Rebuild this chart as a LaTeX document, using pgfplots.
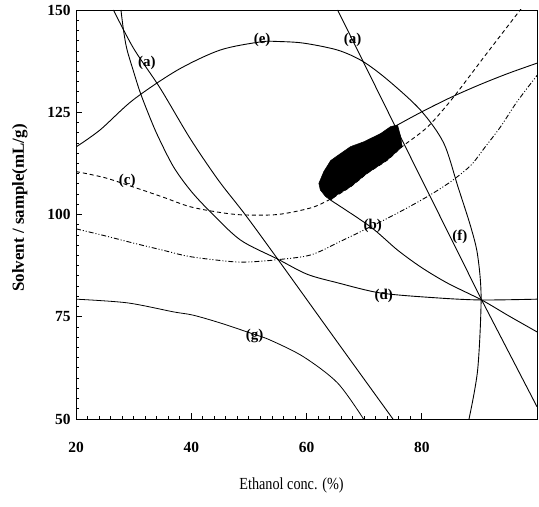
\documentclass[border=0pt]{standalone}
\usepackage{fontspec}
\setmainfont{Liberation Serif}
\usepackage{graphicx}
\usepackage{pgfplots}
\pgfplotsset{compat=1.18}
\begin{document}
\begin{tikzpicture}
\begin{axis}[
  scale only axis, width=461bp, height=409bp,
  xmin=20, xmax=100, ymin=50, ymax=150,
  xtick={20,40,60,80}, ytick={50,75,100,125,150},
  minor x tick num=9, minor y tick num=9,
  tick align=inside,
  xtick pos=bottom, ytick pos=left,
  major tick length=6bp, minor tick length=3bp,
  every tick/.style={black, line width=0.8pt},
  cycle list={{black, no markers}},
  /pgf/number format/assume math mode=true,
  ticklabel style={font=\fontsize{15.5}{16}\selectfont\bfseries},
  xticklabel style={anchor=north, yshift=-20bp},
  yticklabel style={xshift=-2bp},
  xlabel={\scalebox{0.84}[1]{Ethanol conc. (\%)}},
  ylabel={Solvent / sample(mL/g)},
  every axis x label/.style={at={(axis description cs:0.4675,-0.1614)}, anchor=center, font=\fontsize{17}{17}\selectfont},
  every axis y label/.style={at={(axis description cs:-0.1215,0.516)}, rotate=90, anchor=center, font=\fontsize{17}{17}\selectfont\bfseries},
  every axis plot/.append style={line width=0.9pt, black},
  clip=true,
]
% (e) arc
\addplot[smooth] coordinates {(20,116.5) (24.2,120.7) (29.9,128) (37.6,135.3) (45,140.2) (52,142.2) (55,142.3) (59.5,141.9) (65.4,140.2) (69.7,137.5) (74.1,132.9) (79.8,125.5) (83.8,117.5) (86.3,106.7) (88.5,97) (89.7,90) (90.3,79.5) (89.7,62) (88.2,50)};
% steep line (a) top
\addplot[sharp plot] coordinates {(65.4,150) (75.1,122.4) (90.4,79.1) (100,53)};
% left line (a)
\addplot[smooth] coordinates {(26.5,150) (30,140.6) (34.6,130.9) (39.8,118.6) (44.7,108.4) (49.4,99.9) (55,89.1) (65,69.5) (75,50)};
% (d) convex curve
\addplot[smooth] coordinates {(27.8,150) (28.2,145.5) (28.8,140.6) (30,134.9) (31.1,130) (32.6,124.5) (34.2,119.2) (36.9,111.7) (39.8,106) (43,101.1) (48.5,93.8) (55,89.1) (60.1,85.4) (65.4,83.3) (72.9,80.8) (82.8,79.6) (90.4,79.1) (100,79.3)};
% (c) dashed
\addplot[smooth, dash pattern=on 4bp off 3bp] coordinates {(20,110.5) (25,109) (30,106.7) (35,104.3) (39.8,101.9) (45,100.5) (49,99.9) (55,100) (60.7,101.6) (63.8,103.5) (67.65,106.8) (70.55,110.1) (74,113.3) (76.6,116.6) (81,121.4) (85.4,128.5) (90.8,138.5) (96.7,149.3) (97.1,150)};
% dash-dot curve
\addplot[smooth, dash pattern=on 5bp off 2bp on 1bp off 2bp on 1bp off 2bp] coordinates {(20,96.5) (25,94.8) (30,93) (35,91.3) (39.8,89.7) (46.8,88.5) (50,88.4) (54.6,88.9) (60.7,90.1) (66,93.5) (71.1,97) (76,100.5) (81,104.4) (85,108) (88.5,112) (91,116.5) (93.7,121.5) (96.5,127.5) (100,134)};
% (b) curve
\addplot[smooth] coordinates {(64.2,103.5) (71.1,97) (75.8,91.3) (80,87) (84.5,83.2) (90.4,79.1) (95,75.3) (100,71.3)};
% top solid line from shaded region
\addplot[smooth] coordinates {(75.8,121.9) (80,125.1) (85,128.6) (90,131.7) (95,134.5) (100,137)};
% (g)
\addplot[smooth, line width=0.8pt] coordinates {(20,79.3) (28.9,78.4) (36.9,76.2) (40.3,75.4) (45,73.5) (50.3,71) (53.7,69.3) (59.5,65.2) (65.4,58.8) (69.9,50)};
% shaded region
\addplot[fill=black, draw=black, line width=0.5pt] coordinates {(62.14,107.6) (63.0,110.5) (64.2,113.2) (65.6,114.6) (67.65,116.6) (69.97,117.8) (72.87,119.8) (74.6,121.5) (75.8,121.9) (76.35,119) (76.6,116.6) (74.0,113.3) (70.55,110.1) (67.65,106.8) (65.3,104.8) (64.2,103.5) (63.3,104.4) (62.4,106)} -- cycle;
% labels
\begin{scope}[every node/.style={font=\fontsize{15}{15}\selectfont\bfseries, inner sep=0pt}]
\node at (axis cs:32.3,137) {(a)};
\node at (axis cs:52.3,142.7) {(e)};
\node at (axis cs:68,142.7) {(a)};
\node at (axis cs:28.9,108.2) {(c)};
\node at (axis cs:71.5,97.2) {(b)};
\node at (axis cs:73.4,80) {(d)};
\node at (axis cs:86.6,94.5) {(f)};
\node at (axis cs:51,70.3) {(g)};
\end{scope}
\end{axis}
\path ([xshift=-76bp,yshift=-87bp]current axis.south west) rectangle ([xshift=2bp,yshift=10bp]current axis.north east);
\end{tikzpicture}
\end{document}
